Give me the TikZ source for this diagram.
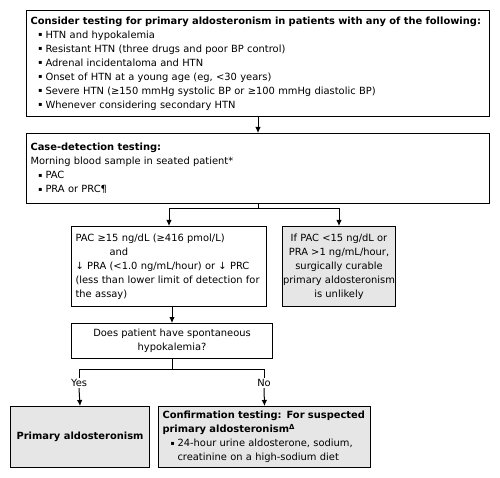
\documentclass[tikz,border=0pt]{standalone}
\usepackage{fontspec}
\setmainfont{DejaVu Sans}
\usetikzlibrary{arrows.meta}
\definecolor{boxgray}{RGB}{230,230,230}
\newcommand{\bul}{\hspace*{8pt}\makebox[7pt][l]{\raisebox{1.3pt}{\fontsize{6}{6}\selectfont ▪}}}
\newcommand{\ind}{\hspace*{15pt}}
\tikzset{
  box/.style={draw, line width=1pt, anchor=north west, inner xsep=4pt, inner ysep=0pt, align=left, font=\fontsize{9.9}{14}\selectfont},
  graybox/.style={box, fill=boxgray},
  lbl/.style={inner sep=1pt, font=\fontsize{9.9}{14}\selectfont}
}
\begin{document}
\begin{tikzpicture}[x=1pt,y=-1pt,line width=1pt,>={Latex[length=6pt,width=5.5pt]}]
\useasboundingbox (0,0) rectangle (500,478);
% boxes
\node[box,text width=455pt,minimum height=106pt] (crit) at (26,10) {{\bfseries Consider testing for primary aldosteronism in patients with any of the following:}\\
\bul HTN and hypokalemia\\
\bul Resistant HTN (three drugs and poor BP control)\\
\bul Adrenal incidentaloma and HTN\\
\bul Onset of HTN at a young age (eg, <30 years)\\
\bul Severe HTN (≥150 mmHg systolic BP or ≥100 mmHg diastolic BP)\\
\bul Whenever considering secondary HTN};
\node[box,text width=455pt,minimum height=70pt] (detect) at (26,133) {{\bfseries Case-detection testing:}\\
Morning blood sample in seated patient*\\
\bul PAC\\
\bul PRA or PRC¶};
\node[box,text width=187pt,minimum height=80pt] (high) at (71,226) {PAC ≥15 ng/dL (≥416 pmol/L)\\
\hspace*{34pt}and\\
↓ PRA (<1.0 ng/mL/hour) or ↓ PRC\\
(less than lower limit of detection for\\
the assay)};
\node[graybox,inner xsep=0.5pt,minimum width=113pt,minimum height=80pt,align=center] (low) at (282,226) {If PAC <15 ng/dL or\\
PRA >1 ng/mL/hour,\\
surgically curable\\
primary aldosteronism\\
is unlikely};
\node[box,minimum width=201pt,minimum height=35pt,align=center] (hypo) at (71,323) {Does patient have spontaneous\\
hypokalemia?};
\node[graybox,minimum width=139pt,minimum height=61pt,align=center] (pa) at (10,406) {\bfseries Primary aldosteronism};
\node[graybox,text width=204pt,minimum height=61pt] (conf) at (158,406) {{\bfseries Confirmation testing: For suspected\\
primary aldosteronism\textsuperscript{Δ}}\\
\bul 24-hour urine aldosterone, sodium,\\
\ind creatinine on a high-sodium diet};
\node[lbl] (yes) at (79,383) {Yes};
\node[lbl] (no) at (264,383) {No};
% connectors
\draw[->] (crit.south) -- (detect.north);
\draw (detect.south) -- ++(0,5) coordinate (split);
\draw[->] (split) -| (high.north);
\draw[->] (split) -| (low.north);
\draw[->] (high.south -| hypo.north) -- (hypo.north);
\draw (hypo.south) -- ++(0,10) coordinate (fork);
\draw (fork) -| (yes.north);
\draw (fork) -| (no.north);
\draw[->] (yes.south) -- (pa.north);
\draw[->] (no.south) -- (conf.north);
\end{tikzpicture}
\end{document}
